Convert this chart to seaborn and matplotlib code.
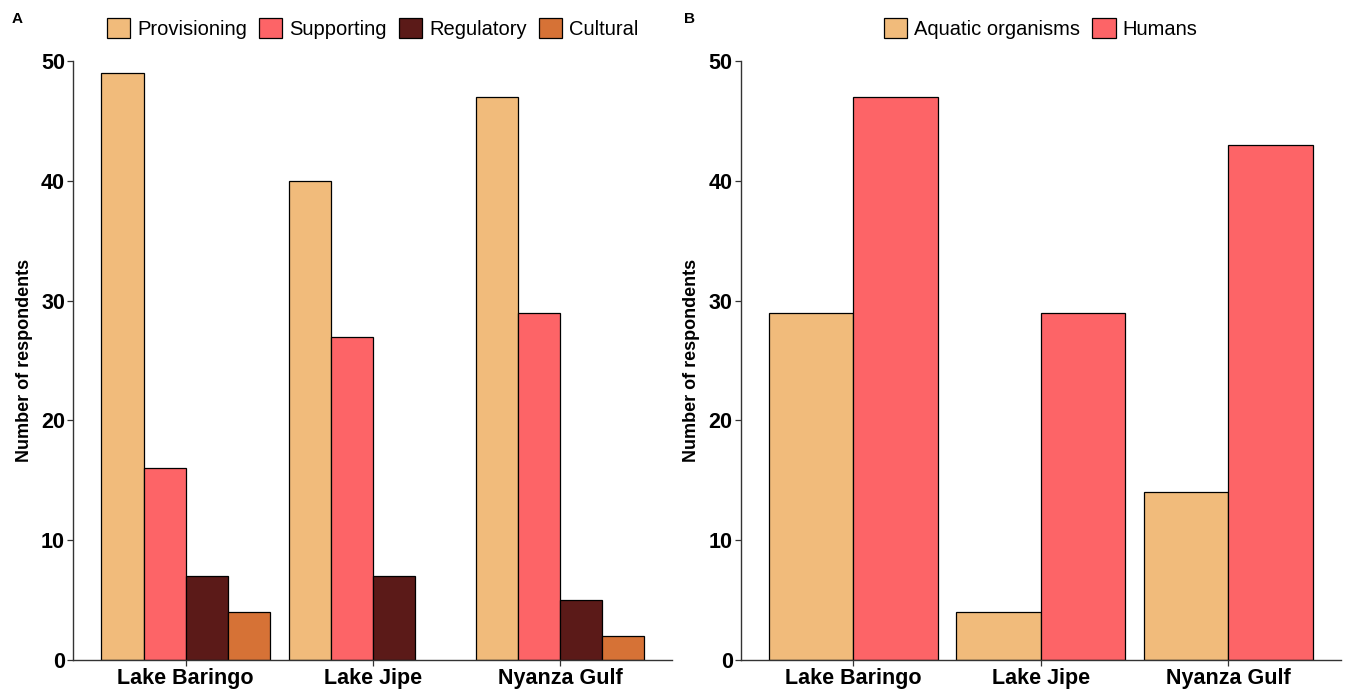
import matplotlib
matplotlib.use("Agg")
import matplotlib.pyplot as plt
import seaborn as sns
import pandas as pd

sites = ["Lake Baringo", "Lake Jipe", "Nyanza Gulf"]

# Panel A: ecosystem services named by respondents
services = ["Provisioning", "Supporting", "Regulatory", "Cultural"]
provisioning = [49, 40, 47]
supporting = [16, 27, 29]
regulatory = [7, 7, 5]
cultural = [4, None, 2]   # no cultural responses at Lake Jipe

# Panel B: who is affected
groups = ["Aquatic organisms", "Humans"]
aquatic = [29, 4, 14]
humans = [47, 29, 43]

palette_a = ["#F1BB7B", "#FD6467", "#5B1A18", "#D67236"]
palette_b = ["#F1BB7B", "#FD6467"]

yticks = [0, 10, 20, 30, 40, 50]


def long_table(names, series):
    rows = []
    for name, vals in zip(names, series):
        for site, v in zip(sites, vals):
            if v is not None:
                rows.append({"site": site, "group": name, "n": v})
    return pd.DataFrame(rows)


df_a = long_table(services, [provisioning, supporting, regulatory, cultural])
df_b = long_table(groups, [aquatic, humans])

sns.set_theme(style="ticks")
plt.rcParams["font.family"] = ["Liberation Sans", "DejaVu Sans"]
plt.rcParams["text.color"] = "black"
plt.rcParams["axes.labelcolor"] = "black"

fig = plt.figure(figsize=(13.46, 6.94), dpi=100)
ax_a = fig.add_axes([0.0545, 0.049, 0.445, 0.863])
ax_b = fig.add_axes([0.5505, 0.049, 0.4455, 0.863])


def draw(ax, df, order, palette):
    sns.barplot(data=df, x="site", y="n", hue="group", order=sites,
                hue_order=order, palette=palette, width=0.9,
                edgecolor="black", linewidth=0.9, saturation=1,
                errorbar=None, ax=ax)
    ax.set_xlim(-0.6, 2.6)
    ax.set_ylim(0, 50)
    ax.set_yticks(yticks)
    ax.set_xlabel("")
    ax.set_ylabel("Number of respondents", fontsize=13, fontweight="bold",
                  labelpad=6, color="black")
    for lab in ax.get_xticklabels() + ax.get_yticklabels():
        lab.set_fontweight("bold")
        lab.set_fontsize(15.5)
        lab.set_color("black")
    ax.tick_params(axis="both", direction="out", length=4, width=0.9,
                   color="#333333", pad=2)
    for side in ("top", "right"):
        ax.spines[side].set_visible(False)
    for side in ("left", "bottom"):
        ax.spines[side].set_color("#333333")
        ax.spines[side].set_linewidth(1.0)
    handles, labels = ax.get_legend_handles_labels()
    leg = ax.legend(handles, labels, loc="center", bbox_to_anchor=(0.5, 1.055),
                    ncol=len(order), frameon=False, fontsize=14.5,
                    handlelength=1.15, handleheight=1.15, handletextpad=0.35,
                    columnspacing=0.6, borderaxespad=0)
    for t in leg.get_texts():
        t.set_color("black")


draw(ax_a, df_a, services, palette_a)
draw(ax_b, df_b, groups, palette_b)

fig.text(0.009, 0.972, "A", fontsize=11, fontweight="bold", va="center")
fig.text(0.508, 0.972, "B", fontsize=11, fontweight="bold", va="center")

fig.savefig("out.png", dpi=100)
